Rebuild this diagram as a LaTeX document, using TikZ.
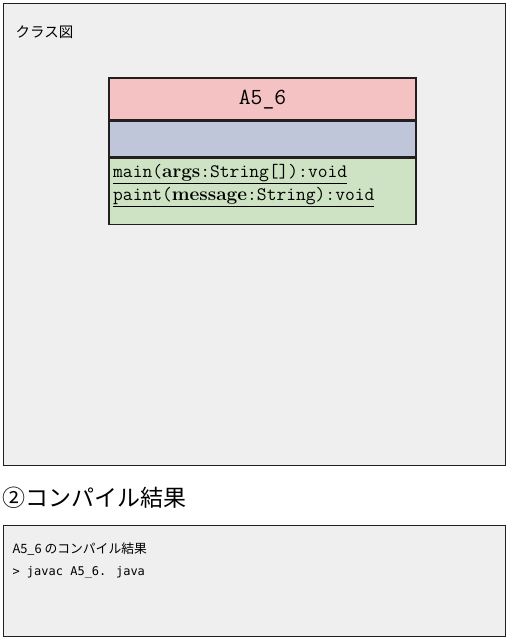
\documentclass[tikz,border=0pt]{standalone}
\usepackage{fontspec}
\usepackage{tikz}
\usetikzlibrary{positioning}
\newfontfamily\jpfont{Noto Sans CJK JP}
\newfontfamily\consolefont{DejaVu Sans Mono}
\definecolor{framecolor}{RGB}{35, 31, 32}
\definecolor{panelcolor}{RGB}{239, 239, 239}
\definecolor{namecolor}{RGB}{244, 194, 195}
\definecolor{attrcolor}{RGB}{192, 198, 217}
\definecolor{opcolor}{RGB}{205, 227, 196}
\tikzset{
  panel/.style={draw=framecolor, line width=1.2pt, fill=panelcolor, anchor=north west},
  compartment/.style={draw=framecolor, line width=1.5pt, minimum width=307pt, inner sep=0pt},
  operation/.style={anchor=base west, inner sep=0pt, font=\fontsize{19}{21}\ttfamily}
}

\begin{document}
\begin{tikzpicture}[x=1pt, y=-1pt]
    \useasboundingbox (0, 0) rectangle (509, 639);

    % Class diagram panel
    \node[panel, minimum width=502pt, minimum height=462pt] (diagram) at (3, 3) {};
    \node[anchor=west, font=\fontsize{14.5}{16}\jpfont] (diagramtitle) at (12, 32) {クラス図};

    % Class box
    \node[compartment, fill=namecolor, minimum height=42pt, anchor=north, font=\fontsize{23}{25}\ttfamily] (classname) at (262.5, 77.5) {A5\_6};
    \node[compartment, fill=attrcolor, minimum height=35.5pt, below=0pt of classname] (attributes) {};
    \node[compartment, fill=opcolor, minimum height=65.5pt, below=0pt of attributes] (operations) {};
    \node[operation] (mainop) at (113, 177) {\underline{main(\textrm{\textbf{args}}:String[]):void}};
    \node[operation] (paintop) at (113, 200) {\underline{paint(\textrm{\textbf{message}}:String):void}};

    % Compile result
    \node[anchor=west, inner sep=0pt, font=\fontsize{23}{26}\jpfont] (resulthead) at (2, 498) {②コンパイル結果};
    \node[panel, minimum width=502pt, minimum height=111pt] (console) at (3, 525) {};
    \node[anchor=west, font=\fontsize{12.8}{14}\jpfont] (consoletitle) at (9, 549) {A5\_6 のコンパイル結果};
    \node[anchor=west, font=\fontsize{12}{14}\consolefont] (javacline) at (9, 572) {> javac A5\_6. java};
\end{tikzpicture}
\end{document}
